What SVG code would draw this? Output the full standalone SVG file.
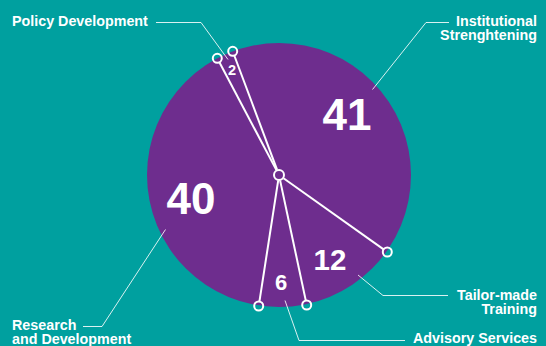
<svg xmlns="http://www.w3.org/2000/svg" width="546" height="346" viewBox="0 0 546 346">
<style>
.lbl{font-family:"Liberation Sans",Arial,sans-serif;font-weight:bold;font-size:14.3px;fill:#fff}
.r{text-anchor:end}
.num{font-family:"Liberation Sans",Arial,sans-serif;font-weight:bold;fill:#fff;text-anchor:middle}
.lead{fill:none;stroke:#fff;stroke-opacity:0.85;stroke-width:1}
.spoke{stroke:#fff;stroke-width:2;fill:none}
.dot{fill:none;stroke:#fff;stroke-width:2}
</style>
<rect x="0" y="0" width="546" height="346" fill="#00A09F"/>
<g id="pie">
<circle cx="279" cy="175" r="132" fill="#6E2D8E"/>
</g>
<g id="connectors">
<polyline class="lead" points="156,22.5 201,22.5 228,59.5"/>
<polyline class="lead" points="449,22.5 426,22.5 372.5,89.5"/>
<polyline class="lead" points="83,326.5 102,326.5 165.5,229.5"/>
<polyline class="lead" points="358,275 383,295.5 448,295.5"/>
<polyline class="lead" points="285,300.5 299,340.5 405,340.5"/>
<line class="spoke" x1="276.4" y1="170.1" x2="219.4" y2="62.3"/>
<line class="spoke" x1="277.1" y1="169.9" x2="234.3" y2="55.5"/>
<line class="spoke" x1="283.5" y1="178.2" x2="383.6" y2="249.4"/>
<line class="spoke" x1="278.2" y1="180.4" x2="259.4" y2="301.6"/>
<line class="spoke" x1="280.1" y1="180.4" x2="305.8" y2="300.6"/>
<circle class="dot" cx="279" cy="175" r="5"/>
<circle class="dot" cx="217.3" cy="58.3" r="4.5"/>
<circle class="dot" cx="232.7" cy="51.3" r="4.5"/>
<circle class="dot" cx="387.3" cy="252" r="4.5"/>
<circle class="dot" cx="258.7" cy="306" r="4.5"/>
<circle class="dot" cx="306.7" cy="305" r="4.5"/>
</g>
<g id="policy-development">
<text class="lbl" x="12" y="25.5">Policy Development</text>
<text class="num" x="232" y="75" font-size="14.5">2</text>
</g>
<g id="institutional-strengthening">
<text class="lbl r" x="537" y="25.5">Institutional</text>
<text class="lbl r" x="537" y="39.5">Strenghtening</text>
<text class="num" x="347" y="130" font-size="44">41</text>
</g>
<g id="research-development">
<text class="lbl" x="12" y="329.5">Research</text>
<text class="lbl" x="12" y="343.5">and Development</text>
<text class="num" x="191" y="214" font-size="44">40</text>
</g>
<g id="tailor-made-training">
<text class="lbl r" x="537" y="299.5">Tailor-made</text>
<text class="lbl r" x="537" y="313.5">Training</text>
<text class="num" x="330" y="269.5" font-size="29.5">12</text>
</g>
<g id="advisory-services">
<text class="lbl r" x="537" y="343">Advisory Services</text>
<text class="num" x="281" y="289.5" font-size="22">6</text>
</g>
</svg>
